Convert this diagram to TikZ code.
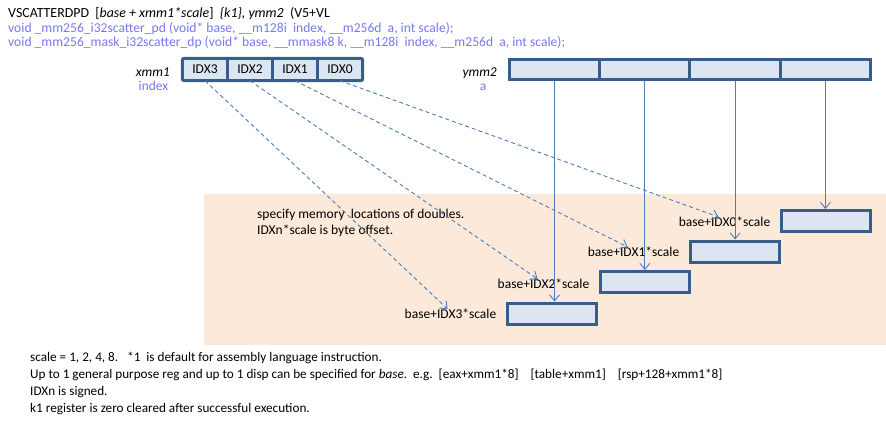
\documentclass[tikz,border=0pt]{standalone}
\usepackage{fontspec}
\setmainfont{Carlito}
\usetikzlibrary{arrows.meta,calc}

\definecolor{regedge}{RGB}{56,93,138}
\definecolor{regfill}{RGB}{220,230,242}
\definecolor{linkblue}{RGB}{74,126,187}
\definecolor{peach}{RGB}{253,233,217}
\definecolor{lav}{RGB}{120,120,240}

\begin{document}
\begin{tikzpicture}[x=1pt,y=-1pt,
  txt/.style={inner sep=0pt, font=\fontsize{13.5}{16}\selectfont, anchor=base west},
  head/.style={inner sep=0pt, font=\fontsize{13.9}{16}\selectfont, anchor=base west},
  proto/.style={inner sep=0pt, font=\fontsize{13.6}{16}\selectfont, anchor=base west, text=lav},
  small/.style={inner sep=0pt, font=\fontsize{13.2}{15}\selectfont, anchor=base west},
  xcell/.style={fill=regfill, minimum width=45pt, minimum height=22pt, inner sep=0pt,
                font=\fontsize{13.5}{16}\selectfont},
  ycell/.style={fill=regfill, draw=regedge, line width=3pt, minimum width=90.25pt,
                minimum height=20pt, inner sep=0pt},
  mem/.style={fill=regfill, draw=regedge, line width=3pt, minimum width=89pt,
              minimum height=21pt, inner sep=0pt},
  addr/.style={inner sep=0pt, font=\fontsize{13.5}{16}\selectfont},
  tip/.style={-{Straight Barb[length=6pt,width=10pt]}},
  scat/.style={draw=linkblue, line width=0.9pt, dash pattern=on 4pt off 3pt, tip},
  feed/.style={draw=linkblue, line width=0.9pt, tip}]

\useasboundingbox (0,0) rectangle (886,424);

% memory area
\fill[peach] (204,194) rectangle (886,345);

% header
\node[head] (title) at (8,17.5) {VSCATTERDPD\ \ [\textit{base + xmm1*scale}]\ \ \textit{\{k1\}, ymm2}\ \ (V5+VL};
\node[proto] (proto1) at (8,32.5) {void \_mm256\_i32scatter\_pd (void* base, \_\_m128i\ \ index, \_\_m256d\ \ a, int scale);};
\node[proto] (proto2) at (8,46) {void \_mm256\_mask\_i32scatter\_dp (void* base, \_\_mmask8 k, \_\_m128i\ \ index, \_\_m256d\ \ a, int scale);};

% xmm1 register (index)
\node[txt, anchor=base east] (xname) at (170,76) {\textit{xmm1}};
\node[txt, anchor=base, text=lav] (xrole) at (153.5,90) {index};
\node[xcell] (x3) at (205,69.5) {IDX3};
\node[xcell] (x2) at (250,69.5) {IDX2};
\node[xcell] (x1) at (295,69.5) {IDX1};
\node[xcell] (x0) at (340,69.5) {IDX0};
\foreach \c in {x3,x2,x1}
  \draw[regedge, line width=2.5pt] (\c.north east) -- (\c.south east);
\draw[regedge, line width=3pt, rounded corners=2pt] (x3.north west) rectangle (x0.south east);

% ymm2 register (a)
\node[txt, anchor=base east] (yname) at (497,76) {\textit{ymm2}};
\node[txt, anchor=base, text=lav] (yrole) at (483,90) {a};
\node[ycell] (y3) at (554.6,69.5) {};
\node[ycell] (y2) at (644.9,69.5) {};
\node[ycell] (y1) at (735.1,69.5) {};
\node[ycell] (y0) at (825.4,69.5) {};

% memory destinations
\node[mem] (m0) at (826,221) {};
\node[mem] (m1) at (735,251.5) {};
\node[mem] (m2) at (644.5,282) {};
\node[mem] (m3) at (552,313.5) {};

\node[addr] (a0) at (724.5,222) {base+IDX0*scale};
\node[addr] (a1) at (633.5,252) {base+IDX1*scale};
\node[addr] (a2) at (543.5,284) {base+IDX2*scale};
\node[addr] (a3) at (450.5,314) {base+IDX3*scale};

\node[txt] (note1) at (257,218) {specify memory\ \ locations of doubles.};
\node[txt] (note2) at (257,234) {IDXn*scale is byte offset.};

% data elements to memory
\draw[feed] (y0.south) -- (y0.south |- m0.north);
\draw[feed] (y1.south) -- (y1.south |- m1.north);
\draw[feed] (y2.south) -- (y2.south |- m2.north);
\draw[feed] (y3.south) -- (y3.south |- m3.north);

% indices to addresses
\draw[scat] (x0.south) -- ([xshift=40pt]a0.north west);
\draw[scat] (x1.south) -- ([xshift=40pt]a1.north west);
\draw[scat] (x2.south) -- ([xshift=40pt]a2.north west);
\draw[scat] (x3.south) -- ([xshift=43pt]a3.north west);

% footnotes
\node[small] (f1) at (30,361) {scale = 1, 2, 4, 8.\ \ \ *1\ \ is default for assembly language instruction.};
\node[small] (f2) at (30,378) {Up to 1 general purpose reg and up to 1 disp can be specified for \textit{base}.\ \ e.g.\ \ [eax+xmm1*8]\ \ \ \ [table+xmm1]\ \ \ \ [rsp+128+xmm1*8]};
\node[small] (f3) at (30,395) {IDXn is signed.};
\node[small] (f4) at (30,412) {k1 register is zero cleared after successful execution.};
\end{tikzpicture}
\end{document}
